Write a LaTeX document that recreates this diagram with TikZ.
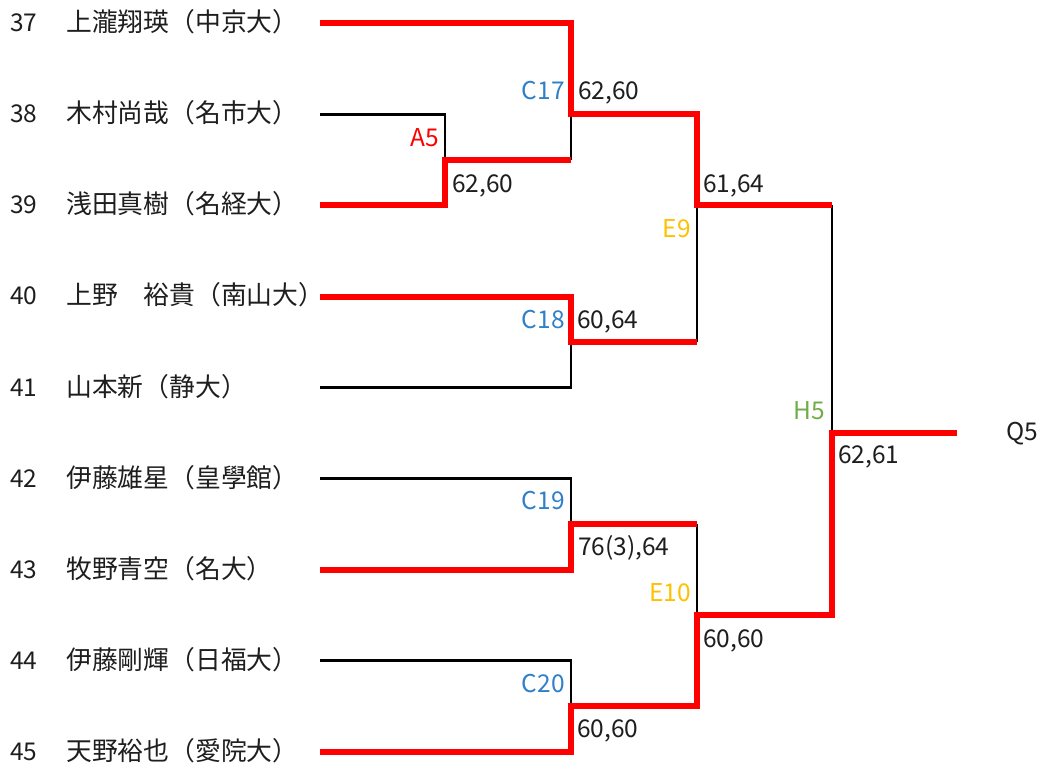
\documentclass[tikz,border=0pt]{standalone}
\usepackage{fontspec}
\setmainfont{Noto Sans CJK JP}
\usetikzlibrary{positioning}
\definecolor{wred}{HTML}{FF0000}
\definecolor{cblue}{HTML}{2F80C8}
\definecolor{egold}{HTML}{FFC000}
\definecolor{hgreen}{HTML}{70AD47}
\definecolor{txt}{HTML}{1E1E1E}

\begin{document}
\begin{tikzpicture}[x=1pt, y=-1pt, font=\fontsize{24.5}{26}\selectfont]
                \tikzset{
                    lose/.style={line width=2.8pt, black},
                    win/.style={line width=6pt, wred},
                    lbl/.style={inner sep=0pt, anchor=base east},
                    score/.style={inner sep=0pt, anchor=base west, text=txt},
                    player/.style={score, font=\fontsize{25.8}{27}\selectfont}
                }
                \useasboundingbox (0,0) rectangle (1041,767);

                % players
                \foreach \n/\name [count=\i from 0] in {37/上瀧翔瑛（中京大）, 38/木村尚哉（名市大）,
                    39/浅田真樹（名経大）, 40/上野　裕貴（南山大）, 41/山本新（静大）,
                    42/伊藤雄星（皇學館）, 43/牧野青空（名大）, 44/伊藤剛輝（日福大）, 45/天野裕也（愛院大）}
                {
                    \node[score] (n\n) at (10, 32+91*\i) {\n};
                    \node[player] (p\n) at (66, 32+91*\i) {\name};
                    \coordinate (s\n) at (320, 23.5+91*\i);
                }

                % match points
                \coordinate (a5) at (445,160);
                \coordinate (c17) at (571,114.5);
                \coordinate (c18) at (571,342);
                \coordinate (c19) at (571,524);
                \coordinate (c20) at (571,706);
                \coordinate (e9) at (697,205.5);
                \coordinate (e10) at (697,615);
                \coordinate (h5) at (832,433);
                \coordinate (fin) at (957,433);

                \draw[lose] (s38) -| (a5);
                \draw[lose] (c17) -- (c17 |- a5);
                \draw[lose] (s41) -| (c18);
                \draw[lose] (s42) -| (c19);
                \draw[lose] (s44) -| (c20);
                \draw[lose] (e9) -- (e9 |- c18);
                \draw[lose] (e10 |- c19) -- (e10);
                \draw[lose] (h5 |- e9) -- (h5);

                \draw[win] (s37) -| (c17) -| (e9) -- (h5 |- e9);
                \draw[win] (s39) -| (a5) -- (c17 |- a5);
                \draw[win] (s40) -| (c18) -- (e9 |- c18);
                \draw[win] (s43) -| (c19) -- (e10 |- c19);
                \draw[win] (s45) -| (c20) -| (e10) -| (h5) -- (fin);

                % match names
                \node[lbl, text=wred] (la5) at (439,147) {A5};
                \node[lbl, text=cblue] (lc17) at (565,100) {C17};
                \node[lbl, text=cblue] (lc18) at (565,328) {C18};
                \node[lbl, text=cblue] (lc19) at (565,509) {C19};
                \node[lbl, text=cblue] (lc20) at (565,692) {C20};
                \node[lbl, text=egold] (le9) at (691,238) {E9};
                \node[lbl, text=egold] (le10) at (691,601) {E10};
                \node[lbl, text=hgreen] (lh5) at (825,419) {H5};

                % scores
                \node[score] (sa5) at (452,193) {62,60};
                \node[score] (sc17) at (578,100) {62,60};
                \node[score] (sc18) at (577,328) {60,64};
                \node[score] (sc19) at (578,555) {76(3),64};
                \node[score] (sc20) at (577,737) {60,60};
                \node[score] (se9) at (703,193) {61,64};
                \node[score] (se10) at (703,647) {60,60};
                \node[score] (sh5) at (838,463) {62,61};

                \node[score] (q5) at (1006,440) {Q5};

            \end{tikzpicture}
\end{document}
